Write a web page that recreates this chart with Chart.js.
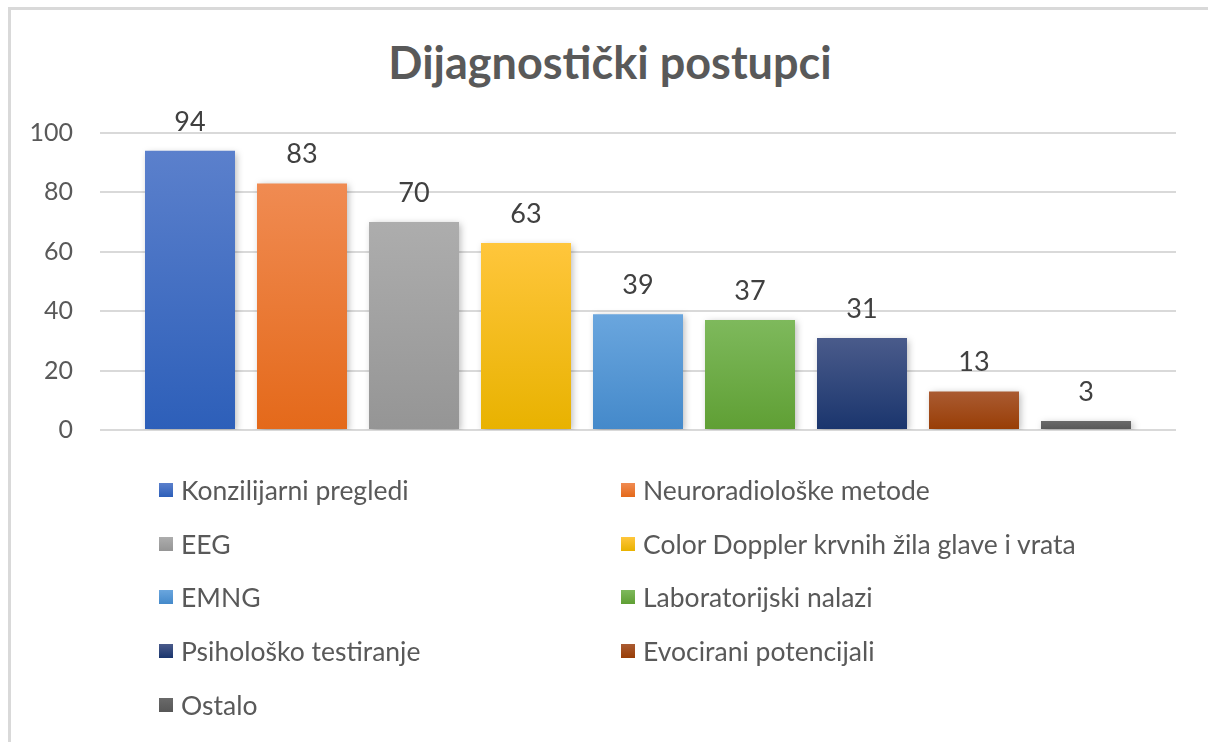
<!DOCTYPE html>
<html>
<head>
<meta charset="utf-8">
<title>Dijagnostički postupci</title>
<script src="https://cdn.jsdelivr.net/npm/chart.js@4.4.1/dist/chart.umd.min.js"></script>
<style>
  html, body { margin: 0; padding: 0; background: #fff; }
  body { width: 1208px; height: 742px; position: relative; overflow: hidden; font-family: Lato, "Open Sans", sans-serif; }
  .frame { position: absolute; left: 8px; top: 7px; width: 1240px; height: 780px; border: 3px solid #d9d9d9; }
  .title { position: absolute; left: 260px; width: 700px; top: 37px; text-align: center; font-weight: bold; font-size: 45px; color: #595959; line-height: 50px; }
  .chartBox { position: absolute; left: 0; top: 0; width: 1208px; height: 742px; }
  .legend { position: absolute; left: 159px; top: 463px; display: grid; grid-template-columns: 462px 460px; grid-auto-rows: 53.75px; }
  .legendItem { display: flex; align-items: center; font-size: 26.5px; color: #595959; white-space: nowrap; }
  .legendItem span.box { width: 14px; height: 14px; margin-right: 8px; display: inline-block; flex: none; }
</style>
</head>
<body>
<div class="frame"></div>
<div class="title"></div>
<div class="chartBox"><canvas id="dijagnostika"></canvas></div>
<div class="legend"></div>

<script>
const chartTitle = "Dijagnostički postupci";
const categories = [
    "Konzilijarni pregledi",
    "Neuroradiološke metode",
    "EEG",
    "Color Doppler krvnih žila glave i vrata",
    "EMNG",
    "Laboratorijski nalazi",
    "Psihološko testiranje",
    "Evocirani potencijali",
    "Ostalo"
];
const values = [94, 83, 70, 63, 39, 37, 31, 13, 3];
const topColors = ["#5b80cc", "#f08b52", "#adadad", "#ffc63c", "#6aa6de", "#7eb95c", "#4a5b8b", "#aa5b32", "#6a6a6a"];
const bottomColors = ["#2d5fb9", "#e4691a", "#959595", "#e8b200", "#4489ca", "#5f9f34", "#1a356d", "#983d05", "#575757"];
const yTicks = [0, 20, 40, 60, 80, 100];

document.querySelector(".title").textContent = chartTitle;

// legenda u dva stupca, kao u Excelu
const legendDiv = document.querySelector(".legend");
categories.forEach((name, i) => {
    const item = document.createElement("div");
    item.setAttribute("class", "legendItem");
    item.innerHTML = `<span class="box" style="background: linear-gradient(${topColors[i]}, ${bottomColors[i]})"></span>${name}`;
    legendDiv.appendChild(item);
});

const barFill = (i) => (ctx) => {
    const chart = ctx.chart;
    const y = chart.scales && chart.scales.y;
    if (!chart.chartArea || !y) return topColors[i];
    const top = y.getPixelForValue(values[i]);
    const bottom = y.getPixelForValue(0);
    if (!isFinite(top) || !isFinite(bottom) || top === bottom) return topColors[i];
    const g = chart.ctx.createLinearGradient(0, top, 0, bottom);
    g.addColorStop(0, topColors[i]);
    g.addColorStop(1, bottomColors[i]);
    return g;
};

const barShadow = {
    id: "barShadow",
    beforeDatasetDraw(chart) {
        const c = chart.ctx;
        c.save();
        c.shadowColor = "rgba(0, 0, 0, 0.28)";
        c.shadowBlur = 7;
        c.shadowOffsetX = 2;
        c.shadowOffsetY = 2;
    },
    afterDatasetDraw(chart) {
        chart.ctx.restore();
    }
};

const valueLabels = {
    id: "valueLabels",
    afterDatasetsDraw(chart) {
        const ctx = chart.ctx;
        ctx.save();
        ctx.font = "27px Lato";
        ctx.fillStyle = "#404040";
        ctx.textAlign = "center";
        ctx.textBaseline = "middle";
        chart.data.datasets.forEach((ds, i) => {
            chart.getDatasetMeta(i).data.forEach((bar, j) => {
                ctx.fillText(ds.data[j], bar.x, bar.y - 29);
            });
        });
        ctx.restore();
    }
};

const draw = () => {
    new Chart(document.querySelector("#dijagnostika"), {
        type: "bar",
        data: {
            labels: [""],
            datasets: categories.map((name, i) => ({
                label: name,
                data: [values[i]],
                backgroundColor: barFill(i),
                borderWidth: 0,
                categoryPercentage: 0.9368,
                barPercentage: 0.8036
            }))
        },
        options: {
            responsive: true,
            maintainAspectRatio: false,
            animation: false,
            layout: { padding: { left: 0, right: 32, top: 133, bottom: 312 } },
            plugins: {
                legend: { display: false },
                title: { display: false },
                tooltip: { enabled: false }
            },
            scales: {
                x: { display: false },
                y: {
                    min: 0,
                    max: 100,
                    afterBuildTicks: (s) => { s.ticks = yTicks.map(v => ({ value: v })); },
                    afterFit: (s) => { s.width = 100; },
                    ticks: { font: { family: "Lato", size: 25 }, color: "#595959", padding: 27 },
                    grid: { color: "#d9d9d9", lineWidth: 2, drawTicks: false },
                    border: { display: false }
                }
            }
        },
        plugins: [barShadow, valueLabels]
    });
};

document.fonts.load("27px Lato").then(draw, draw);
</script>
</body>
</html>
